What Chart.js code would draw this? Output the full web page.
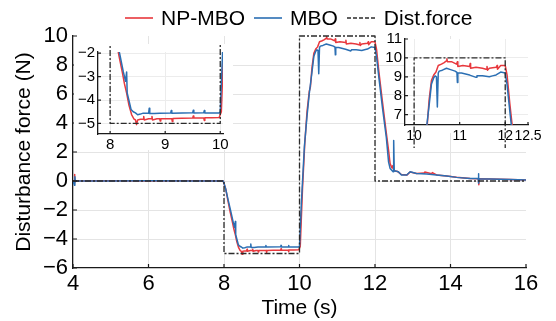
<!DOCTYPE html>
<html>
<head>
<meta charset="utf-8">
<script src="https://cdn.jsdelivr.net/npm/chart.js@4.4.0/dist/chart.umd.min.js"></script>
<style>
    body { margin: 0; background: #fff; }
    #wrap { position: relative; width: 556px; height: 321px; font-family: 'Liberation Sans', Arial, sans-serif; }
    #wrap canvas { position: absolute; }
    #legend { position: absolute; left: 125px; top: 5px; display: flex; align-items: center; font-size: 21px; line-height: 26px; color: #000; white-space: nowrap; }
    #legend .item { display: flex; align-items: center; margin-right: 9px; }
    #legend svg { margin-right: 8px; }
</style>
</head>
<body>
<div id="wrap">
    <canvas id="mainChart" width="556" height="321" style="left:0;top:0"></canvas>
    <canvas id="inset1" width="159" height="106" style="left:74px;top:44px;background:#fff"></canvas>
    <canvas id="inset2" width="172" height="118" style="left:380px;top:30px"></canvas>
    <div id="legend">
        <span class="item"><svg width="28" height="4"><line x1="0" y1="2" x2="28" y2="2" stroke="#e8383d" stroke-width="1.6"/></svg>NP-MBO</span>
        <span class="item"><svg width="28" height="4"><line x1="0" y1="2" x2="28" y2="2" stroke="#2b6fb3" stroke-width="1.6"/></svg>MBO</span>
        <span class="item"><svg width="29" height="4"><line x1="0" y1="2" x2="29" y2="2" stroke="#2b2b2b" stroke-width="1.4" stroke-dasharray="4 2"/></svg>Dist.force</span>
    </div>
</div>
<script>
// ========================================
// Data
// ========================================
const xTicks = [4, 6, 8, 10, 12, 14, 16];
const yTicks = [-6, -4, -2, 0, 2, 4, 6, 8, 10];
const inset1XTicks = [8, 9, 10];
const inset1YTicks = [-5, -4, -3, -2];
const inset2XTicks = [10, 11, 12, 12.5];
const inset2YTicks = [7, 8, 9, 10, 11];

const npTime = [4.00, 4.03, 4.04, 4.05, 4.06, 5.00, 6.00, 7.00, 7.98, 8.05, 8.10, 8.16, 8.22, 8.26, 8.28, 8.30,
    8.34, 8.39, 8.43, 8.46, 8.48, 8.50, 8.55, 8.60, 8.61, 8.62, 8.70, 8.75, 8.76, 8.77, 8.85, 8.90, 8.91, 8.92,
    9.00, 9.12, 9.13, 9.14, 9.30, 9.50, 9.51, 9.52, 9.70, 9.71, 9.72, 9.85, 9.98, 10.02, 10.08, 10.14, 10.20,
    10.26, 10.29, 10.33, 10.38, 10.43, 10.48, 10.53, 10.60, 10.66, 10.71, 10.72, 10.73, 10.82, 10.93, 10.95,
    10.96, 11.07, 11.22, 11.23, 11.24, 11.36, 11.50, 11.58, 11.60, 11.61, 11.65, 11.80, 11.82, 11.83, 11.90,
    12.00, 12.04, 12.10, 12.20, 12.30, 12.36, 12.40, 12.45, 12.47, 12.50, 12.60, 12.70, 12.85, 12.93, 13.10,
    13.30, 13.32, 13.50, 13.52, 13.63, 13.90, 14.16, 14.52, 14.74, 14.75, 14.76, 15.05, 15.58, 16.00];
const npForce = [0, 0, 0.45, -0.1, 0, 0.02, 0, 0.01, 0, -0.6, -1.3, -2.1, -2.8, -3.3, -3.5, -3.7,
    -4.2, -4.62, -4.8, -4.85, -5.05, -4.85, -4.82, -4.82, -4.7, -4.85, -4.8, -4.8, -4.7, -4.85, -4.8, -4.8, -4.9, -4.8,
    -4.8, -4.8, -4.92, -4.79, -4.78, -4.77, -4.68, -4.77, -4.77, -4.87, -4.76, -4.76, -4.75, -4.5, -0.5, 2.6, 4.8,
    6.2, 6.5, 7.8, 8.8, 9.1, 9.25, 9.6, 9.67, 9.75, 9.85, 9.95, 9.8, 9.8, 9.67, 9.8,
    9.55, 9.6, 9.55, 9.7, 9.45, 9.5, 9.45, 9.4, 9.55, 9.35, 9.45, 9.5, 9.6, 9.4, 9.6,
    9.6, 9.1, 7.6, 5.4, 3.3, 2.1, 1.2, 0.9, 1.05, 0.7, 0.65, 0.45, 0.42, 0.62, 0.52,
    0.55, 0.62, 0.5, 0.58, 0.42, 0.34, 0.26, 0.18, 0.15, -0.25, 0.15, 0.14, 0.1, 0.07];

const mboTime = [4.00, 4.04, 4.05, 4.06, 5.00, 6.00, 7.00, 7.98, 8.04, 8.10, 8.18, 8.24, 8.28, 8.30, 8.31,
    8.34, 8.38, 8.42, 8.46, 8.50, 8.55, 8.60, 8.70, 8.71, 8.72, 8.80, 8.90, 9.10, 9.11, 9.12, 9.50, 9.51, 9.52,
    9.70, 9.71, 9.72, 9.98, 10.00, 10.05, 10.13, 10.20, 10.26, 10.33, 10.38, 10.43, 10.46, 10.49, 10.51, 10.53,
    10.55, 10.62, 10.71, 10.80, 10.90, 10.94, 10.95, 10.96, 11.04, 11.22, 11.36, 11.38, 11.50, 11.65, 11.72,
    11.80, 11.90, 12.00, 12.04, 12.10, 12.20, 12.30, 12.36, 12.40, 12.48, 12.49, 12.50, 12.51, 12.62, 12.70,
    12.84, 12.93, 13.10, 13.37, 13.63, 13.90, 14.16, 14.52, 14.73, 14.74, 14.75, 14.76, 15.05, 15.58, 16.00];
const mboForce = [0, -0.3, 0.3, 0, 0, 0.01, 0, 0, -0.5, -1.2, -2.1, -2.8, -3.2, -2.8, -3.7,
    -4.0, -4.4, -4.5, -4.55, -4.63, -4.6, -4.56, -4.56, -4.35, -4.58, -4.58, -4.56, -4.55, -4.45, -4.56, -4.54, -4.44, -4.55,
    -4.54, -4.45, -4.55, -4.55, -4.5, -1.5, 2.4, 4.5, 6.05, 7.5, 8.6, 8.95, 9.05, 9.0, 7.4, 9.2,
    9.3, 9.35, 9.45, 9.38, 9.3, 9.23, 8.7, 9.2, 9.2, 9.09, 8.97, 9.05, 9.05, 9.0, 9.05,
    9.1, 9.25, 9.2, 8.6, 7.2, 5.0, 3.0, 1.3, 0.87, 0.64, 1.5, 2.8, 0.7, 0.64, 0.41,
    0.41, 0.64, 0.52, 0.48, 0.41, 0.34, 0.25, 0.18, 0.18, 0.5, -0.15, 0.16, 0.14, 0.11, 0.07];

const distTime = [4, 8, 8, 10, 10, 12, 12, 16];
const distForce = [0, 0, -5, -5, 10, 10, 0, 0];

const RED = '#e8383d';
const BLUE = '#2b6fb3';
const DIST = '#2b2b2b';

Chart.defaults.font.family = "'Liberation Sans', Arial, sans-serif";
Chart.defaults.color = '#000';

// ========================================
// Helpers
// ========================================
function toPoints(time, values) {
    return time.map((t, i) => ({ x: t, y: values[i] }));
}

function fmt(v) {
    return String(v).replace('-', '\u2212');
}

function setTicks(scale, list) {
    scale.ticks = list.map(v => ({ value: v }));
}

function fixSize(scale, size) {
    if (scale.isHorizontal()) scale.height = size;
    else scale.width = size;
    scale.paddingLeft = scale.paddingRight = scale.paddingTop = scale.paddingBottom = 0;
}

function gridColor(skip, color) {
    return ctx => (ctx.tick && skip.includes(ctx.tick.value)) ? 'rgba(0,0,0,0)' : color;
}

function makeDatasets(distClip) {
    const common = { pointRadius: 0, tension: 0, fill: false, borderJoinStyle: 'round' };
    return [
        { ...common, label: 'NP-MBO', data: toPoints(npTime, npForce), borderColor: RED, borderWidth: 1.5, order: 3 },
        { ...common, label: 'MBO', data: toPoints(mboTime, mboForce), borderColor: BLUE, borderWidth: 1.5, order: 2 },
        { ...common, label: 'Dist.force', data: toPoints(distTime, distForce), borderColor: DIST, borderWidth: 1.3,
          borderDash: [6, 2, 2, 2], order: 1, clip: distClip }
    ];
}

// inward tick marks (Plots.jl style)
const innerTicks = {
    id: 'innerTicks',
    afterDraw(chart, args, opts) {
        const { ctx, chartArea, scales: { x, y } } = chart;
        const len = opts.len || 4;
        ctx.save();
        ctx.strokeStyle = '#1a1a1a';
        ctx.lineWidth = 1.2;
        ctx.beginPath();
        x.ticks.forEach(t => {
            const px = x.getPixelForValue(t.value);
            ctx.moveTo(px, chartArea.bottom);
            ctx.lineTo(px, chartArea.bottom - len);
        });
        y.ticks.forEach(t => {
            const py = y.getPixelForValue(t.value);
            ctx.moveTo(chartArea.left, py);
            ctx.lineTo(chartArea.left + len, py);
        });
        ctx.stroke();
        ctx.restore();
    }
};

// white panel behind an inset plot area
const whiteBox = {
    id: 'whiteBox',
    beforeDraw(chart, args, opts) {
        if (!opts.on) return;
        const a = chart.chartArea;
        const ctx = chart.ctx;
        ctx.save();
        ctx.fillStyle = '#fff';
        ctx.fillRect(a.left, a.top, a.width + (opts.right || 0), a.height + (opts.bottom || 0));
        ctx.restore();
    }
};

function buildChart(id, cfg) {
    return new Chart(document.getElementById(id), {
        type: 'line',
        data: { datasets: makeDatasets(cfg.distClip) },
        options: {
            responsive: false,
            animation: false,
            events: [],
            layout: { padding: cfg.padding },
            plugins: {
                legend: { display: false },
                tooltip: { enabled: false },
                innerTicks: { len: cfg.tickLen },
                whiteBox: { on: cfg.white, right: 0, bottom: cfg.whiteBottom || 0 }
            },
            scales: {
                x: {
                    type: 'linear', min: cfg.xMin, max: cfg.xMax,
                    afterBuildTicks: s => setTicks(s, cfg.xTicks),
                    afterFit: s => fixSize(s, cfg.xSize),
                    grid: { drawTicks: false, color: gridColor(cfg.xSkip, cfg.grid), lineWidth: 1 },
                    border: { color: '#1a1a1a', width: 1.3 },
                    ticks: { padding: cfg.xPad, font: { size: cfg.xFont || cfg.font, lineHeight: 1 }, color: '#000', callback: fmt, maxRotation: 0, autoSkip: false },
                    title: cfg.xTitle ? { display: true, text: cfg.xTitle, font: { size: 21 }, color: '#000', padding: { top: 0, bottom: 0 } } : { display: false }
                },
                y: {
                    type: 'linear', min: cfg.yMin, max: cfg.yMax,
                    afterBuildTicks: s => setTicks(s, cfg.yTicks),
                    afterFit: s => fixSize(s, cfg.ySize),
                    grid: { drawTicks: false, color: gridColor(cfg.ySkip, cfg.grid), lineWidth: 1 },
                    border: { color: '#1a1a1a', width: 1.3 },
                    ticks: { padding: cfg.yPad, font: { size: cfg.font, lineHeight: 1 }, color: '#000', callback: fmt, autoSkip: false },
                    title: cfg.yTitle ? { display: true, text: cfg.yTitle, font: { size: 21 }, color: '#000', padding: { top: 12, bottom: 0 } } : { display: false }
                }
            }
        },
        plugins: [whiteBox, innerTicks]
    });
}

// ========================================
// Main chart + two zoomed insets
// ========================================
buildChart('mainChart', {
    padding: { top: 36, right: 30, left: 0, bottom: 0 },
    xMin: 4, xMax: 16, yMin: -6, yMax: 10,
    xTicks: xTicks, yTicks: yTicks, xSkip: [4, 16], ySkip: [-6, 10],
    xSize: 53, ySize: 73, xPad: 5, yPad: 5, font: 22, tickLen: 4,
    grid: '#e4e4e4', distClip: 3,
    xTitle: 'Time (s)', yTitle: 'Disturbance force (N)'
});

buildChart('inset1', {
    padding: { top: 8, right: 10, left: 0, bottom: 0 },
    xMin: 7.78, xMax: 10.05, yMin: -5.45, yMax: -1.95,
    xTicks: inset1XTicks, yTicks: inset1YTicks, xSkip: [], ySkip: [],
    xSize: 16, ySize: 24, xPad: 3, yPad: 3, font: 15, tickLen: 3,
    grid: '#ececec', distClip: false, white: true
});

buildChart('inset2', {
    padding: { top: 9, right: 24, left: 0, bottom: 0 },
    xMin: 9.8, xMax: 12.5, yMin: 6.45, yMax: 11,
    xTicks: inset2XTicks, yTicks: inset2YTicks, xSkip: [12.5], ySkip: [11],
    xSize: 23, ySize: 25, xPad: 4, yPad: 3, font: 15, xFont: 14, tickLen: 3,
    grid: '#ececec', distClip: false, white: true, whiteBottom: 8
});
</script>
</body>
</html>
